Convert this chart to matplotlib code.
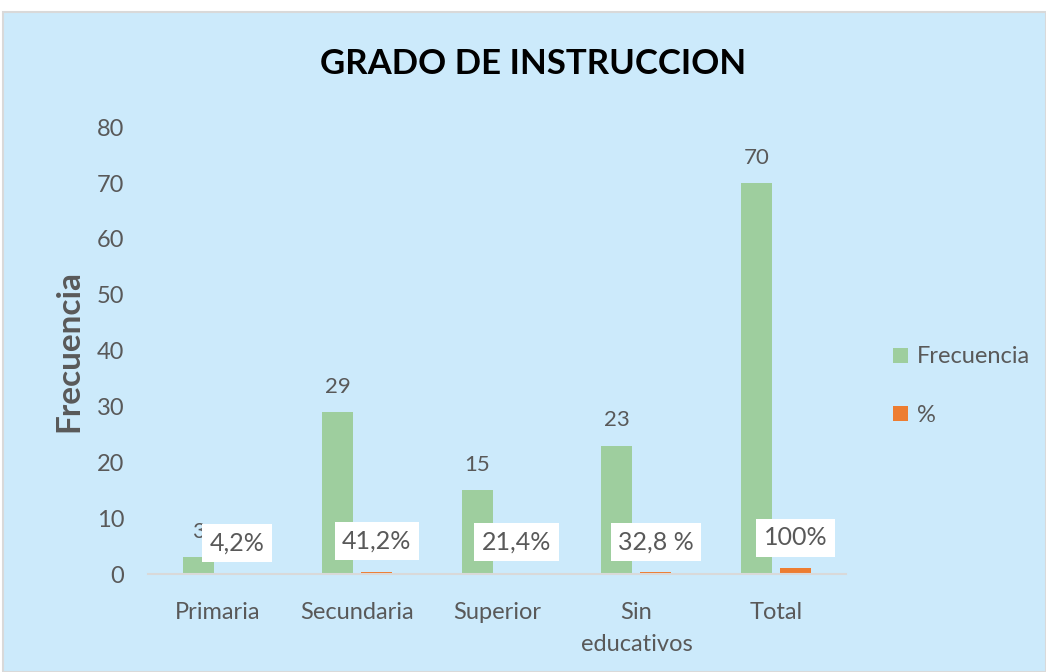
import numpy as np
import matplotlib.pyplot as plt
from matplotlib.patches import Rectangle

# Datos
categorias = ["Primaria", "Secundaria", "Superior", "Sin\neducativos", "Total"]
frecuencia = [3, 29, 15, 23, 70]
porcentaje = [0.042, 0.412, 0.214, 0.328, 1.0]
etiquetas_pct = ["4,2%", "41,2%", "21,4%", "32,8 %", "100%"]

plt.rcParams['font.family'] = ['Lato', 'DejaVu Sans']

gris = "#595959"
fondo = "#CCEAFB"
verde = "#9ECE9E"
naranja = "#ED7D31"

fig = plt.figure(figsize=(10.46, 6.72), dpi=100)
fig.patch.set_facecolor("white")
# panel azul del grafico
fig.patches.append(Rectangle((0.003, 0.0), 0.997, 0.982, transform=fig.transFigure,
                             facecolor=fondo, edgecolor="#D9D9D9", linewidth=1.5, zorder=-1))

ax = fig.add_axes([0.1415, 0.1458, 0.667, 0.665])
ax.set_facecolor("none")

x = np.arange(len(categorias))
w = 0.222
sep = 0.14
ax.bar(x - sep, frecuencia, w, color=verde, label="Frecuencia")
ax.bar(x + sep, porcentaje, w, color=naranja, label="%")

for xi, v in zip(x, frecuencia):
    ax.annotate(str(v), (xi - sep, v), xytext=(0, 11), textcoords="offset points",
                ha="center", va="bottom", fontsize=16, color=gris)

for xi, p, t in zip(x, porcentaje, etiquetas_pct):
    ax.annotate(t, (xi + sep, p), xytext=(0, 22), textcoords="offset points",
                ha="center", va="center", fontsize=18, color=gris,
                bbox=dict(boxstyle="square,pad=0.3", facecolor="white", edgecolor="none"))

ax.set_xlim(-0.5, 4.5)
ax.set_ylim(0, 80)
ax.set_yticks(range(0, 81, 10))
ax.set_xticks(x)
ax.set_xticklabels(categorias, linespacing=1.65)
ax.tick_params(axis="both", length=0, labelsize=17, colors=gris)
ax.tick_params(axis="x", pad=20)
ax.tick_params(axis="y", pad=17)
for s in ["top", "right", "left"]:
    ax.spines[s].set_visible(False)
ax.spines["bottom"].set_color("#D9D9D9")
ax.spines["bottom"].set_linewidth(1.5)

ax.set_ylabel("Frecuencia", fontsize=24, fontweight="bold", color=gris, labelpad=10)
fig.text(0.51, 0.905, "GRADO DE INSTRUCCION", ha="center", va="center",
         fontsize=25, fontweight="bold", color="black")

ax.legend(loc="center left", bbox_to_anchor=(1.038, 0.42), frameon=False,
          fontsize=17, labelcolor=gris, handlelength=0.6, handleheight=0.6,
          labelspacing=1.6, handletextpad=0.4)

fig.savefig("out.png", dpi=100)
